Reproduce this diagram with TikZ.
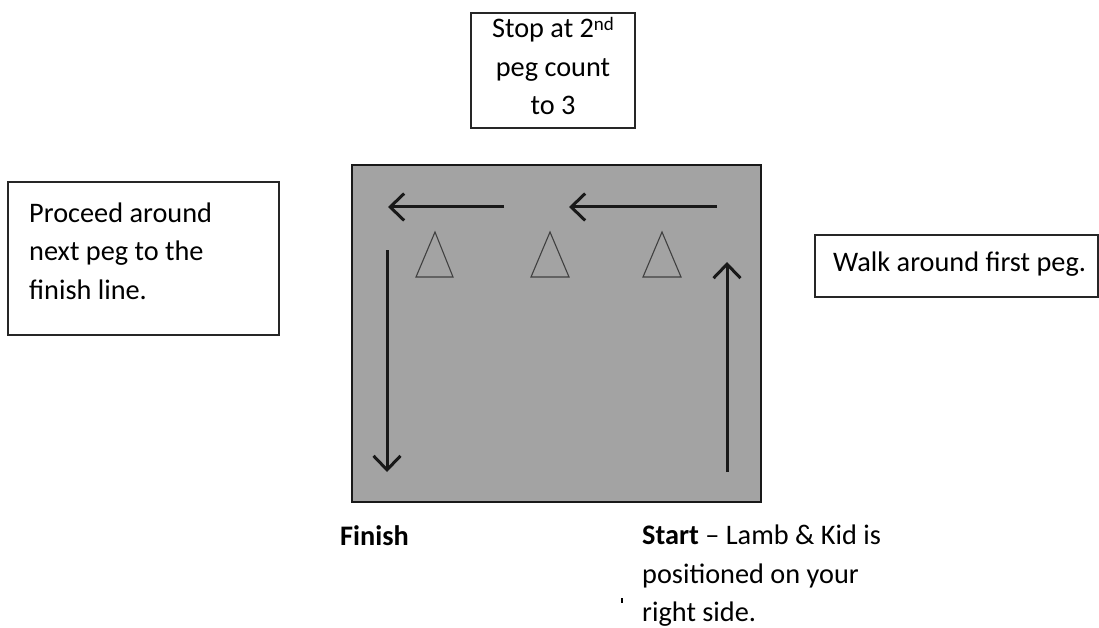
\documentclass[tikz,border=0pt]{standalone}
\usepackage{fontspec}
\setmainfont{Carlito}
\usetikzlibrary{arrows.meta}
\tikzset{
  note/.style={draw=black!85, line width=1.1pt, fill=white, inner sep=0pt},
  txt/.style={inner sep=0pt, font=\fontsize{28.3}{38.5}\selectfont},
  route/.style={line width=3pt, black!90, -{Straight Barb[length=14pt,width=27pt,line width=3pt]}},
  peg/.style={draw=black!75, line width=1.1pt, fill=none},
}
\newcommand{\supnd}{\raisebox{0.55ex}{\fontsize{19}{19}\selectfont nd}}
\begin{document}
\begin{tikzpicture}[x=1pt,y=-1pt]
\useasboundingbox (0,0) rectangle (1099,628);
% arena
\node[draw=black!90, line width=2.6pt, fill=black!36, minimum width=409pt, minimum height=337pt, inner sep=0pt] (arena) at (556.5,333.5) {};
% pegs
\path[peg] (416,277) -- (435,232) -- (453,277) -- cycle;
\path[peg] (531,277) -- (550,232) -- (569,277) -- cycle;
\path[peg] (643,277) -- (662,232) -- (681,277) -- cycle;
% route arrows
\coordinate (a1s) at (727,472); \coordinate (a1e) at (727,262);
\coordinate (a2s) at (717,207); \coordinate (a2e) at (569,207);
\coordinate (a3s) at (504,207); \coordinate (a3e) at (388,207);
\coordinate (a4s) at (387,250); \coordinate (a4e) at (387,472);
\draw[route] (a1s) -- (a1e);
\draw[route] (a2s) -- (a2e);
\draw[route] (a3s) -- (a3e);
\draw[route] (a4s) -- (a4e);
% boxes
\node[note, minimum width=164pt, minimum height=115pt] (stopbox) at (553,70.5) {};
\node[txt, align=center] (stoptxt) at (553,66) {Stop at 2\supnd\\peg count\\to 3};
\node[note, minimum width=271pt, minimum height=153pt] (procbox) at (143.5,258.5) {};
\node[txt, align=left, anchor=west] (proctxt) at (29,251) {Proceed around\\next peg to the\\finish line.};
\node[note, minimum width=283pt, minimum height=62pt] (walkbox) at (956.5,266) {};
\node[txt, anchor=base west] (walktxt) at (833,271) {Walk around first peg.};
% bottom labels
\node[txt, anchor=base west] (finish) at (340,545) {\textbf{Finish}};
\node[txt, align=left, anchor=north west] (start) at (642,525) {\textbf{Start} -- Lamb \& Kid is\\positioned on your\\right side.};
\fill[black] (621,598) rectangle (623,603);
\end{tikzpicture}
\end{document}
